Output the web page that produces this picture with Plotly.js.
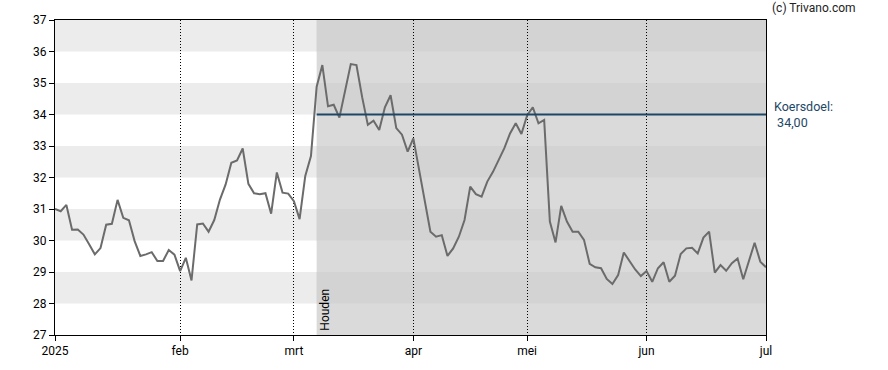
<!DOCTYPE html>
<html>
<head>
<meta charset="utf-8">
<script src="https://cdn.plot.ly/plotly-3.0.1.min.js"></script>
<style>
html,body{margin:0;padding:0;background:#fff;}
#chart{width:888px;height:370px;}
</style>
</head>
<body>
<div id="chart"></div>
<script>
// Trading days (Euronext), 2 Jan 2025 - 1 Jul 2025
const dates = [
 '2025-01-02','2025-01-03','2025-01-06','2025-01-07','2025-01-08','2025-01-09','2025-01-10',
 '2025-01-13','2025-01-14','2025-01-15','2025-01-16','2025-01-17','2025-01-20','2025-01-21',
 '2025-01-22','2025-01-23','2025-01-24','2025-01-27','2025-01-28','2025-01-29','2025-01-30',
 '2025-01-31','2025-02-03','2025-02-04','2025-02-05','2025-02-06','2025-02-07','2025-02-10',
 '2025-02-11','2025-02-12','2025-02-13','2025-02-14','2025-02-17','2025-02-18','2025-02-19',
 '2025-02-20','2025-02-21','2025-02-24','2025-02-25','2025-02-26','2025-02-27','2025-02-28',
 '2025-03-03','2025-03-04','2025-03-05','2025-03-06','2025-03-07','2025-03-10','2025-03-11',
 '2025-03-12','2025-03-13','2025-03-14','2025-03-17','2025-03-18','2025-03-19','2025-03-20',
 '2025-03-21','2025-03-24','2025-03-25','2025-03-26','2025-03-27','2025-03-28','2025-03-31',
 '2025-04-01','2025-04-02','2025-04-03','2025-04-04','2025-04-07','2025-04-08','2025-04-09',
 '2025-04-10','2025-04-11','2025-04-14','2025-04-15','2025-04-16','2025-04-17','2025-04-22',
 '2025-04-23','2025-04-24','2025-04-25','2025-04-28','2025-04-29','2025-04-30','2025-05-02',
 '2025-05-05','2025-05-06','2025-05-07','2025-05-08','2025-05-09','2025-05-12','2025-05-13',
 '2025-05-14','2025-05-15','2025-05-16','2025-05-19','2025-05-20','2025-05-21','2025-05-22',
 '2025-05-23','2025-05-26','2025-05-27','2025-05-28','2025-05-29','2025-05-30','2025-06-02',
 '2025-06-03','2025-06-04','2025-06-05','2025-06-06','2025-06-09','2025-06-10','2025-06-11',
 '2025-06-12','2025-06-13','2025-06-16','2025-06-17','2025-06-18','2025-06-19','2025-06-20',
 '2025-06-23','2025-06-24','2025-06-25','2025-06-26','2025-06-27','2025-06-30','2025-07-01'
];

const prices = [
 31.00,30.93,31.13,30.34,30.35,30.19,29.88,29.56,29.76,30.50,
 30.53,31.29,30.72,30.64,29.98,29.51,29.56,29.63,29.35,29.35,
 29.70,29.55,29.03,29.45,28.73,30.51,30.54,30.28,30.65,31.30,
 31.78,32.47,32.54,32.92,31.80,31.50,31.47,31.50,30.85,32.16,
 31.52,31.49,31.25,30.68,32.05,32.68,34.88,35.57,34.26,34.31,
 33.90,34.72,35.60,35.57,34.55,33.67,33.80,33.51,34.23,34.61,
 33.57,33.36,32.82,33.24,32.27,31.29,30.28,30.12,30.17,29.51,
 29.75,30.12,30.65,31.71,31.47,31.39,31.87,32.18,32.56,32.93,
 33.40,33.72,33.38,33.97,34.23,33.72,33.83,30.60,29.94,31.10,
 30.60,30.28,30.28,30.02,29.26,29.15,29.12,28.78,28.62,28.90,
 29.62,29.33,29.08,28.87,29.03,28.69,29.12,29.31,28.69,28.88,
 29.57,29.75,29.77,29.59,30.09,30.28,28.98,29.22,29.04,29.28,
 29.43,28.77,29.38,29.93,29.33,29.15
];

const tickDates  = ['2025-01-02','2025-02-03','2025-03-03','2025-04-01','2025-05-02','2025-06-02','2025-07-01'];
const tickLabels = ['2025','feb','mrt','apr','mei','jun','jul'];

const adviceDate  = '2025-03-07';
const adviceLabel = 'Houden';
const targetPrice = 34;
const targetLabel = 'Koersdoel:<br> 34,00';
const bandRanges  = [[28,29],[30,31],[32,33],[34,35],[36,37]];

const adviceIdx = dates.indexOf(adviceDate);
const lastIdx = dates.length - 1;

const shapes = [];
// alternating horizontal bands (whole plot)
bandRanges.forEach(b => shapes.push({
  type:'rect', layer:'below', xref:'paper', yref:'y', x0:0, x1:1, y0:b[0], y1:b[1],
  fillcolor:'#ececec', line:{width:0}
}));
// advice period shading
shapes.push({
  type:'rect', layer:'below', xref:'x', yref:'y', x0:adviceIdx, x1:lastIdx, y0:27, y1:37,
  fillcolor:'#dadada', line:{width:0}
});
bandRanges.forEach(b => shapes.push({
  type:'rect', layer:'below', xref:'x', yref:'y', x0:adviceIdx, x1:lastIdx, y0:b[0], y1:b[1],
  fillcolor:'#d3d3d3', line:{width:0}
}));
// target price line
shapes.push({
  type:'line', layer:'above', xref:'x', yref:'y', x0:adviceIdx, x1:lastIdx, y0:targetPrice, y1:targetPrice,
  line:{color:'#1d4766', width:2}
});

const trace = {
  x: dates, y: prices, type:'scatter', mode:'lines',
  line:{color:'#6b6b6b', width:2}, hoverinfo:'skip'
};

const layout = {
  width:888, height:370,
  margin:{l:55, r:122, t:20, b:35},
  paper_bgcolor:'#ffffff', plot_bgcolor:'#ffffff',
  font:{family:'Roboto, Arial, sans-serif', size:12, color:'#000'},
  showlegend:false,
  xaxis:{
    type:'category', range:[0, lastIdx],
    tickmode:'array', tickvals:tickDates, ticktext:tickLabels,
    ticks:'outside', ticklen:5, tickcolor:'#000',
    showgrid:true, gridcolor:'#000', griddash:'1px,2px', gridwidth:1,
    showline:true, linecolor:'#000', linewidth:1, mirror:true,
    zeroline:false, tickfont:{size:12, color:'#000'}
  },
  yaxis:{
    range:[27,37], dtick:1, tick0:27,
    ticks:'outside', ticklen:5, tickcolor:'#000',
    showgrid:false, zeroline:false,
    showline:true, linecolor:'#000', linewidth:1, mirror:true,
    tickfont:{size:12, color:'#000'}
  },
  shapes: shapes,
  annotations:[
    {xref:'x', yref:'y', x:adviceIdx, y:27, text:adviceLabel, textangle:-90,
     showarrow:false, xanchor:'center', yanchor:'bottom', xshift:8, yshift:2,
     font:{size:12, color:'#000'}},
    {xref:'paper', yref:'y', x:1, y:targetPrice, text:targetLabel, align:'left',
     showarrow:false, xanchor:'left', yanchor:'middle', xshift:6,
     font:{size:12.5, color:'#1d4766'}},
    {xref:'paper', yref:'paper', x:1, y:1.038, text:'(c) Trivano.com',
     showarrow:false, xanchor:'left', yanchor:'middle', xshift:4,
     font:{size:12, color:'#222'}}
  ]
};

Plotly.newPlot('chart', [trace], layout, {staticPlot:true, displayModeBar:false});
</script>
</body>
</html>
